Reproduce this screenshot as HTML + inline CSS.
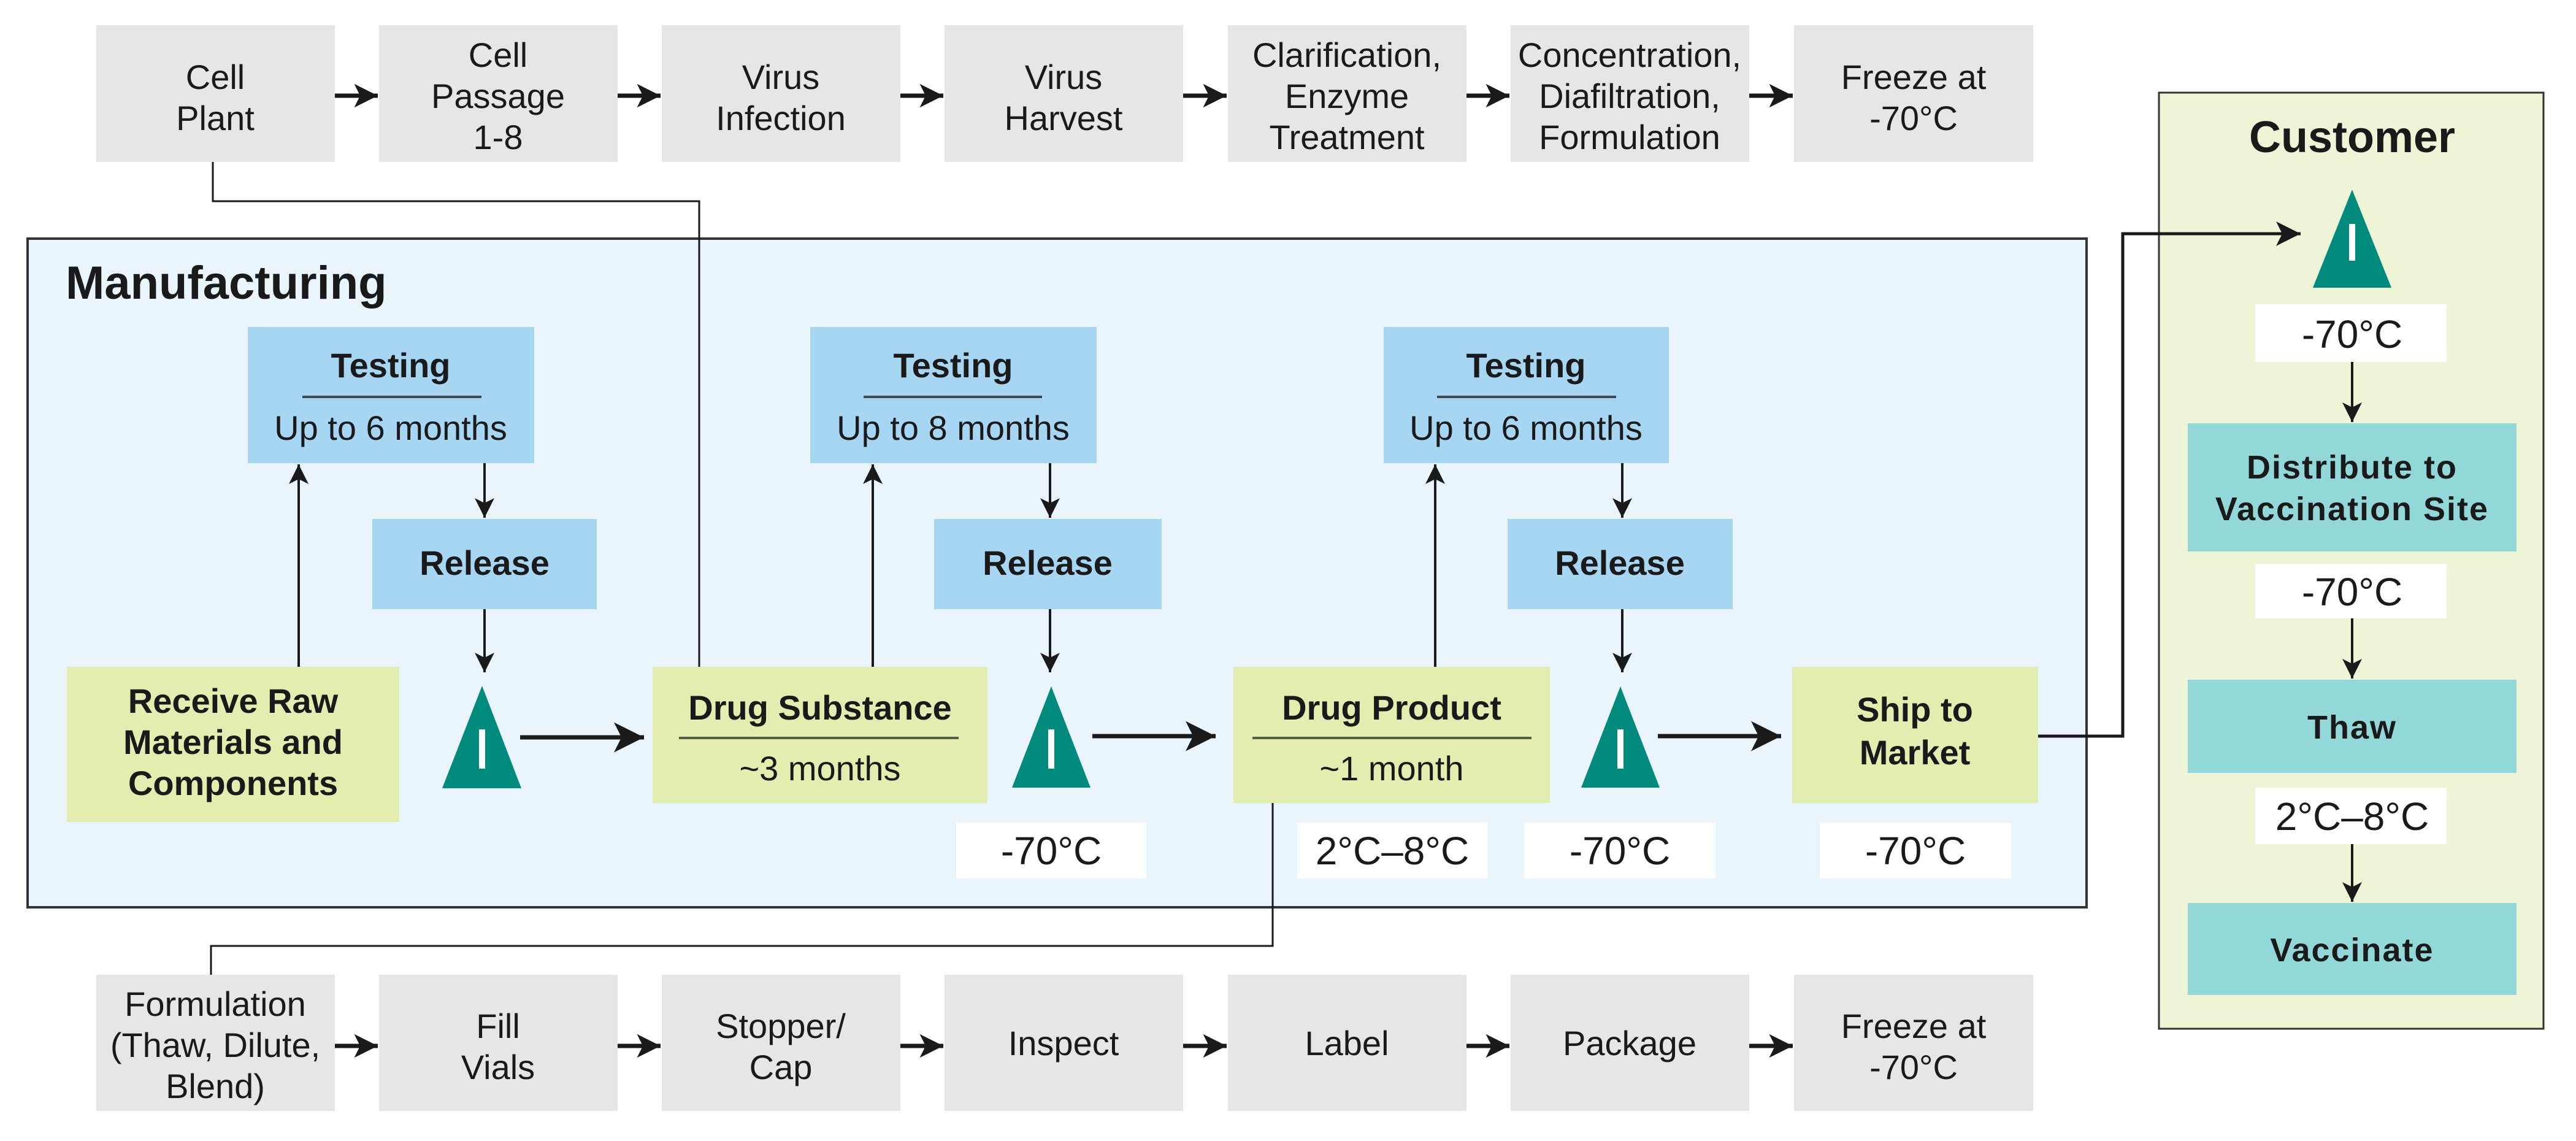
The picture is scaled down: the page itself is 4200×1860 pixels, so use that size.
<!DOCTYPE html>
<html><head><meta charset="utf-8"><style>
html,body{margin:0;padding:0;background:#fff;}
svg{display:block;}
text{font-family:"Liberation Sans",Arial,sans-serif;fill:#1a1a1a;}
.r{font-size:56px;}
.b{font-size:56px;font-weight:bold;}
.t{font-size:64px;}
</style></head><body>
<svg width="4200" height="1860" viewBox="0 0 4200 1860" xmlns="http://www.w3.org/2000/svg">
<defs>
<marker id="ah" viewBox="0 0 10 10" refX="10" refY="5" markerWidth="9" markerHeight="8" markerUnits="strokeWidth" orient="auto"><path d="M0,0 L10,5 L0,10 L2.5,5 z" fill="#1a1a1a"/></marker>
<marker id="am" viewBox="0 0 10 10" refX="10" refY="5" markerWidth="8" markerHeight="7" markerUnits="strokeWidth" orient="auto"><path d="M0,0 L10,5 L0,10 L2.5,5 z" fill="#1a1a1a"/></marker>
<marker id="as" viewBox="0 0 10 10" refX="10" refY="5" markerWidth="5.5" markerHeight="5.5" markerUnits="strokeWidth" orient="auto"><path d="M0,0 L10,5 L0,10 L2.5,5 z" fill="#1a1a1a"/></marker>
</defs>

<!-- top row -->
<g fill="#e6e6e6">
<rect x="157" y="41" width="389" height="223"/><rect x="618" y="41" width="389" height="223"/><rect x="1079" y="41" width="389" height="223"/><rect x="1540" y="41" width="389" height="223"/><rect x="2002" y="41" width="389" height="223"/><rect x="2463" y="41" width="389" height="223"/><rect x="2925" y="41" width="390" height="223"/>
</g>
<g text-anchor="middle">
<text x="351" y="145" class="r">Cell</text><text x="351" y="212" class="r">Plant</text>
<text x="812" y="109" class="r">Cell</text><text x="812" y="176" class="r">Passage</text><text x="812" y="243" class="r">1-8</text>
<text x="1273" y="145" class="r">Virus</text><text x="1273" y="212" class="r">Infection</text>
<text x="1734" y="145" class="r">Virus</text><text x="1734" y="212" class="r">Harvest</text>
<text x="2196" y="109" class="r">Clarification,</text><text x="2196" y="176" class="r">Enzyme</text><text x="2196" y="243" class="r">Treatment</text>
<text x="2657" y="109" class="r">Concentration,</text><text x="2657" y="176" class="r">Diafiltration,</text><text x="2657" y="243" class="r">Formulation</text>
<text x="3120" y="145" class="r">Freeze at</text><text x="3120" y="212" class="r">-70°C</text>
</g>
<g stroke="#1a1a1a" stroke-width="7" marker-end="url(#as)">
<line x1="546" y1="156" x2="616" y2="156"/><line x1="1007" y1="156" x2="1077" y2="156"/><line x1="1468" y1="156" x2="1538" y2="156"/><line x1="1929" y1="156" x2="2000" y2="156"/><line x1="2391" y1="156" x2="2461" y2="156"/><line x1="2852" y1="156" x2="2923" y2="156"/>
</g>

<!-- bottom row -->
<g fill="#e6e6e6">
<rect x="157" y="1589" width="389" height="222"/><rect x="618" y="1589" width="389" height="222"/><rect x="1079" y="1589" width="389" height="222"/><rect x="1540" y="1589" width="389" height="222"/><rect x="2002" y="1589" width="389" height="222"/><rect x="2463" y="1589" width="389" height="222"/><rect x="2925" y="1589" width="390" height="222"/>
</g>
<g text-anchor="middle">
<text x="351" y="1656" class="r">Formulation</text><text x="351" y="1723" class="r">(Thaw, Dilute,</text><text x="351" y="1790" class="r">Blend)</text>
<text x="812" y="1692" class="r">Fill</text><text x="812" y="1759" class="r">Vials</text>
<text x="1273" y="1692" class="r">Stopper/</text><text x="1273" y="1759" class="r">Cap</text>
<text x="1734" y="1720" class="r">Inspect</text>
<text x="2196" y="1720" class="r">Label</text>
<text x="2657" y="1720" class="r">Package</text>
<text x="3120" y="1692" class="r">Freeze at</text><text x="3120" y="1759" class="r">-70°C</text>
</g>
<g stroke="#1a1a1a" stroke-width="7" marker-end="url(#as)">
<line x1="546" y1="1705" x2="616" y2="1705"/><line x1="1007" y1="1705" x2="1077" y2="1705"/><line x1="1468" y1="1705" x2="1538" y2="1705"/><line x1="1929" y1="1705" x2="2000" y2="1705"/><line x1="2391" y1="1705" x2="2461" y2="1705"/><line x1="2852" y1="1705" x2="2923" y2="1705"/>
</g>

<!-- manufacturing -->
<rect x="45" y="389" width="3357" height="1090" fill="#eaf4fb" stroke="#333" stroke-width="4"/>
<text x="107" y="487" style="font-size:76px;font-weight:bold">Manufacturing</text>

<!-- connectors -->
<polyline points="347,264 347,328 1140,328 1140,1087" fill="none" stroke="#1a1a1a" stroke-width="3"/>
<polyline points="2075,1309 2075,1542 344,1542 344,1589" fill="none" stroke="#1a1a1a" stroke-width="3"/>

<!-- testing/release -->
<g fill="#a6d6f2">
<rect x="404" y="533" width="467" height="222"/><rect x="1321" y="533" width="467" height="222"/><rect x="2256" y="533" width="465" height="222"/>
<rect x="607" y="846" width="366" height="147"/><rect x="1523" y="846" width="371" height="147"/><rect x="2458" y="846" width="367" height="147"/>
</g>
<g text-anchor="middle">
<text x="637" y="615" class="b">Testing</text><text x="637" y="717" class="r">Up to 6 months</text>
<text x="1554" y="615" class="b">Testing</text><text x="1554" y="717" class="r">Up to 8 months</text>
<text x="2488" y="615" class="b">Testing</text><text x="2488" y="717" class="r">Up to 6 months</text>
<text x="790" y="937" class="b">Release</text><text x="1708" y="937" class="b">Release</text><text x="2641" y="937" class="b">Release</text>
</g>
<g stroke="#3a4a50" stroke-width="4">
<line x1="493" y1="647" x2="785" y2="647"/><line x1="1408" y1="647" x2="1699" y2="647"/><line x1="2343" y1="647" x2="2635" y2="647"/>
</g>

<!-- green boxes -->
<g fill="#e3edb0">
<rect x="109" y="1087" width="542" height="253"/><rect x="1064" y="1087" width="546" height="222"/><rect x="2011" y="1087" width="516" height="222"/><rect x="2922" y="1087" width="401" height="222"/>
</g>
<g text-anchor="middle">
<text x="380" y="1162" class="b">Receive Raw</text><text x="380" y="1229" class="b">Materials and</text><text x="380" y="1296" class="b">Components</text>
<text x="1337" y="1173" class="b">Drug Substance</text><text x="1337" y="1272" class="r">~3 months</text>
<text x="2269" y="1173" class="b">Drug Product</text><text x="2269" y="1272" class="r">~1 month</text>
<text x="3122" y="1176" class="b">Ship to</text><text x="3122" y="1246" class="b">Market</text>
</g>
<g stroke="#55604a" stroke-width="4">
<line x1="1107" y1="1203" x2="1563" y2="1203"/><line x1="2042" y1="1203" x2="2497" y2="1203"/>
</g>

<!-- triangles (manufacturing) -->
<g fill="#008b7d">
<polygon points="786,1118 721,1285 850,1285"/><polygon points="1714,1119 1650,1284 1778,1284"/><polygon points="2642,1119 2578,1284 2706,1284"/>
</g>
<g fill="#fff">
<rect x="781" y="1189" width="10" height="64"/><rect x="1709" y="1189" width="10" height="64"/><rect x="2637" y="1189" width="10" height="64"/>
</g>

<!-- temp labels -->
<g fill="#fff">
<rect x="1559" y="1341" width="310" height="91"/><rect x="2115" y="1341" width="311" height="91"/><rect x="2485" y="1341" width="312" height="91"/><rect x="2967" y="1341" width="312" height="91"/>
</g>
<g text-anchor="middle">
<text x="1714" y="1409" class="t">-70°C</text><text x="2270" y="1409" class="t">2°C–8°C</text><text x="2641" y="1409" class="t">-70°C</text><text x="3123" y="1409" class="t">-70°C</text>
</g>

<!-- manufacturing arrows -->
<g stroke="#1a1a1a" stroke-width="4" marker-end="url(#ah)" fill="none">
<line x1="487" y1="1087" x2="487" y2="757"/><line x1="1423" y1="1087" x2="1423" y2="757"/><line x1="2340" y1="1087" x2="2340" y2="757"/>
<line x1="790" y1="755" x2="790" y2="844"/><line x1="1712" y1="755" x2="1712" y2="844"/><line x1="2645" y1="755" x2="2645" y2="844"/>
<line x1="790" y1="993" x2="790" y2="1096"/><line x1="1712" y1="993" x2="1712" y2="1096"/><line x1="2645" y1="993" x2="2645" y2="1096"/>
</g>
<g stroke="#1a1a1a" stroke-width="7" marker-end="url(#am)">
<line x1="848" y1="1202" x2="1050" y2="1202"/><line x1="1781" y1="1200" x2="1982" y2="1200"/><line x1="2703" y1="1200" x2="2904" y2="1200"/>
</g>

<!-- customer -->
<rect x="3520" y="151" width="627" height="1526" fill="#eef5d6" stroke="#333" stroke-width="3"/>
<text x="3835" y="248" text-anchor="middle" style="font-size:72px;font-weight:bold">Customer</text>
<polygon points="3835,309 3771,469 3899,469" fill="#008b7d"/>
<rect x="3830" y="365" width="10" height="60" fill="#fff"/>
<polyline points="3323,1200 3461,1200 3461,381 3751,381" fill="none" stroke="#1a1a1a" stroke-width="5" marker-end="url(#ah)"/>
<g fill="#fff">
<rect x="3677" y="496" width="312" height="94"/><rect x="3677" y="919" width="312" height="89"/><rect x="3677" y="1284" width="312" height="92"/>
</g>
<g text-anchor="middle">
<text x="3835" y="567" class="t">-70°C</text><text x="3835" y="987" class="t">-70°C</text><text x="3835" y="1353" class="t">2°C–8°C</text>
</g>
<g fill="#93d8d8">
<rect x="3567" y="690" width="536" height="209"/><rect x="3567" y="1108" width="536" height="152"/><rect x="3567" y="1472" width="536" height="150"/>
</g>
<g text-anchor="middle" style="font-size:54px;font-weight:bold;letter-spacing:2px">
<text x="3835" y="780">Distribute to</text><text x="3835" y="848">Vaccination Site</text>
<text x="3835" y="1204">Thaw</text><text x="3835" y="1567">Vaccinate</text>
</g>
<g stroke="#1a1a1a" stroke-width="4" marker-end="url(#ah)">
<line x1="3835" y1="590" x2="3835" y2="688"/><line x1="3835" y1="1008" x2="3835" y2="1106"/><line x1="3835" y1="1376" x2="3835" y2="1470"/>
</g>
</svg>
</body></html>
